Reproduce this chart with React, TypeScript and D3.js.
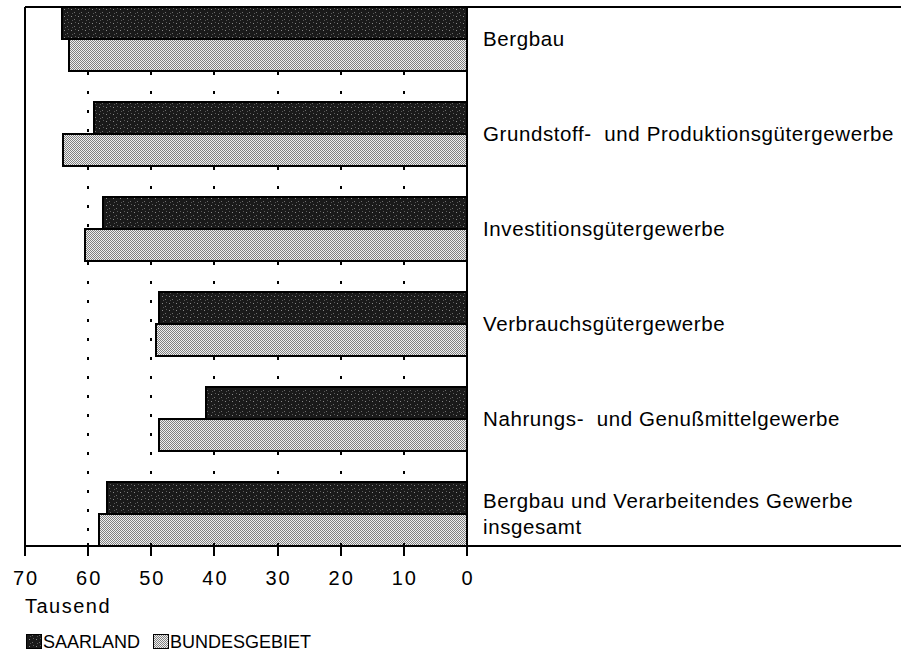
import React from 'react';
import * as d3 from 'd3';

const categories = [
  'Bergbau',
  'Grundstoff- und Produktionsgütergewerbe',
  'Investitionsgütergewerbe',
  'Verbrauchsgütergewerbe',
  'Nahrungs- und Genußmittelgewerbe',
  'Bergbau und Verarbeitendes Gewerbe insgesamt',
];
const labelLines = [
  ['Bergbau'],
  ['Grundstoff-  und Produktionsgütergewerbe'],
  ['Investitionsgütergewerbe'],
  ['Verbrauchsgütergewerbe'],
  ['Nahrungs-  und Genußmittelgewerbe'],
  ['Bergbau und Verarbeitendes Gewerbe', 'insgesamt'],
];
const seriesNames = ['SAARLAND', 'BUNDESGEBIET'];
const saarland = [64.2, 59.0, 57.7, 48.8, 41.4, 57.0];
const bundesgebiet = [63.1, 64.0, 60.5, 49.3, 48.7, 58.3];
const xTicks = [70, 60, 50, 40, 30, 20, 10, 0];
const gridValues = [60, 50, 40, 30, 20, 10];
const axisTitle = 'Tausend';

const W = 901;
const H = 654;
const left = 25;
const zeroX = 467;
const top = 7;
const bottom = 546;

export default function App() {
  const x = d3.scaleLinear().domain([70, 0]).range([left, zeroX]);
  const y = d3
    .scaleBand<string>()
    .domain(categories)
    .range([top, bottom])
    .paddingInner(0.326)
    .paddingOuter(0);
  const ys = d3.scaleBand<string>().domain(seriesNames).range([0, y.bandwidth()]).padding(0);
  const values = [saarland, bundesgebiet];
  const fills = ['url(#darkPat)', 'url(#lightPat)'];
  const font = 'Liberation Sans, Arial, Helvetica, sans-serif';

  return (
    <svg
      width={W}
      height={H}
      style={{ position: 'absolute', left: 0, top: 0, background: '#fff' }}
      shapeRendering="crispEdges"
    >
      <defs>
        <pattern id="darkPat" width="7" height="7" patternUnits="userSpaceOnUse">
          <rect width="7" height="7" fill="#1a1a1a" />
          <rect x="1" y="2" width="1" height="1" fill="#8a8a8a" />
          <rect x="4" y="5" width="1" height="1" fill="#6e6e6e" />
          <rect x="5" y="1" width="1" height="1" fill="#5a5a5a" />
          <rect x="2" y="6" width="1" height="1" fill="#555" />
        </pattern>
        <pattern id="lightPat" width="2" height="2" patternUnits="userSpaceOnUse">
          <rect width="2" height="2" fill="#f0f0f0" />
          <rect x="0" y="0" width="1" height="1" fill="#808080" />
          <rect x="1" y="1" width="1" height="1" fill="#808080" />
        </pattern>
      </defs>

      {/* dotted grid */}
      {gridValues.map((v) => (
        <line
          key={'g' + v}
          x1={Math.round(x(v))}
          x2={Math.round(x(v))}
          y1={top + 4}
          y2={bottom}
          stroke="#000"
          strokeWidth={2}
          strokeDasharray="3 16"
          strokeDashoffset={-4}
        />
      ))}

      {/* bars */}
      {categories.map((c, i) => (
        <g key={c}>
          {seriesNames.map((s, j) => {
            const v = values[j][i];
            const x0 = x(v);
            const yy = (y(c) as number) + (ys(s) as number);
            return (
              <rect
                key={s}
                x={x0}
                y={yy}
                width={zeroX - x0}
                height={ys.bandwidth()}
                fill={fills[j]}
                stroke="#000"
                strokeWidth={2}
              />
            );
          })}
        </g>
      ))}

      {/* frame */}
      <line x1={left} x2={W} y1={top} y2={top} stroke="#000" strokeWidth={2} />
      <line x1={left} x2={W} y1={bottom} y2={bottom} stroke="#000" strokeWidth={2} />
      <line x1={left} x2={left} y1={top} y2={bottom} stroke="#000" strokeWidth={2} />
      <line x1={zeroX} x2={zeroX} y1={top} y2={bottom + 10} stroke="#000" strokeWidth={2} />

      {/* ticks */}
      {xTicks.map((t) => (
        <g key={'t' + t}>
          <line
            x1={Math.round(x(t))}
            x2={Math.round(x(t))}
            y1={bottom - 3}
            y2={bottom + 10}
            stroke="#000"
            strokeWidth={2}
          />
          <text
            x={x(t) + 1}
            y={585}
            textAnchor="middle"
            fontFamily={font}
            fontSize={20}
            letterSpacing={2}
            fill="#000"
          >
            {t}
          </text>
        </g>
      ))}
      <text x={25} y={613} fontFamily={font} fontSize={20} letterSpacing={1.5} fill="#000">
        {axisTitle}
      </text>

      {/* category labels */}
      {categories.map((c, i) => {
        const lines = labelLines[i];
        const mid = (y(c) as number) + (ys('BUNDESGEBIET') as number);
        const lh = 26;
        const firstBaseline = mid + 7 - ((lines.length - 1) * lh) / 2;
        return (
          <text
            key={'l' + c}
            x={483}
            y={firstBaseline}
            fontFamily={font}
            fontSize={20.5}
            letterSpacing={0.6}
            fill="#000"
            style={{ whiteSpace: 'pre' }}
          >
            {lines.map((ln, k) => (
              <tspan key={k} x={483} y={firstBaseline + k * lh}>
                {ln}
              </tspan>
            ))}
          </text>
        );
      })}

      {/* legend */}
      {seriesNames.map((s, j) => {
        const lx = j === 0 ? 26 : 153;
        return (
          <g key={'lg' + s}>
            <rect x={lx} y={634} width={15} height={14} fill={fills[j]} stroke="#000" strokeWidth={1} />
            <text x={lx + 17} y={648} fontFamily={font} fontSize={18} fill="#000">
              {s}
            </text>
          </g>
        );
      })}
    </svg>
  );
}
